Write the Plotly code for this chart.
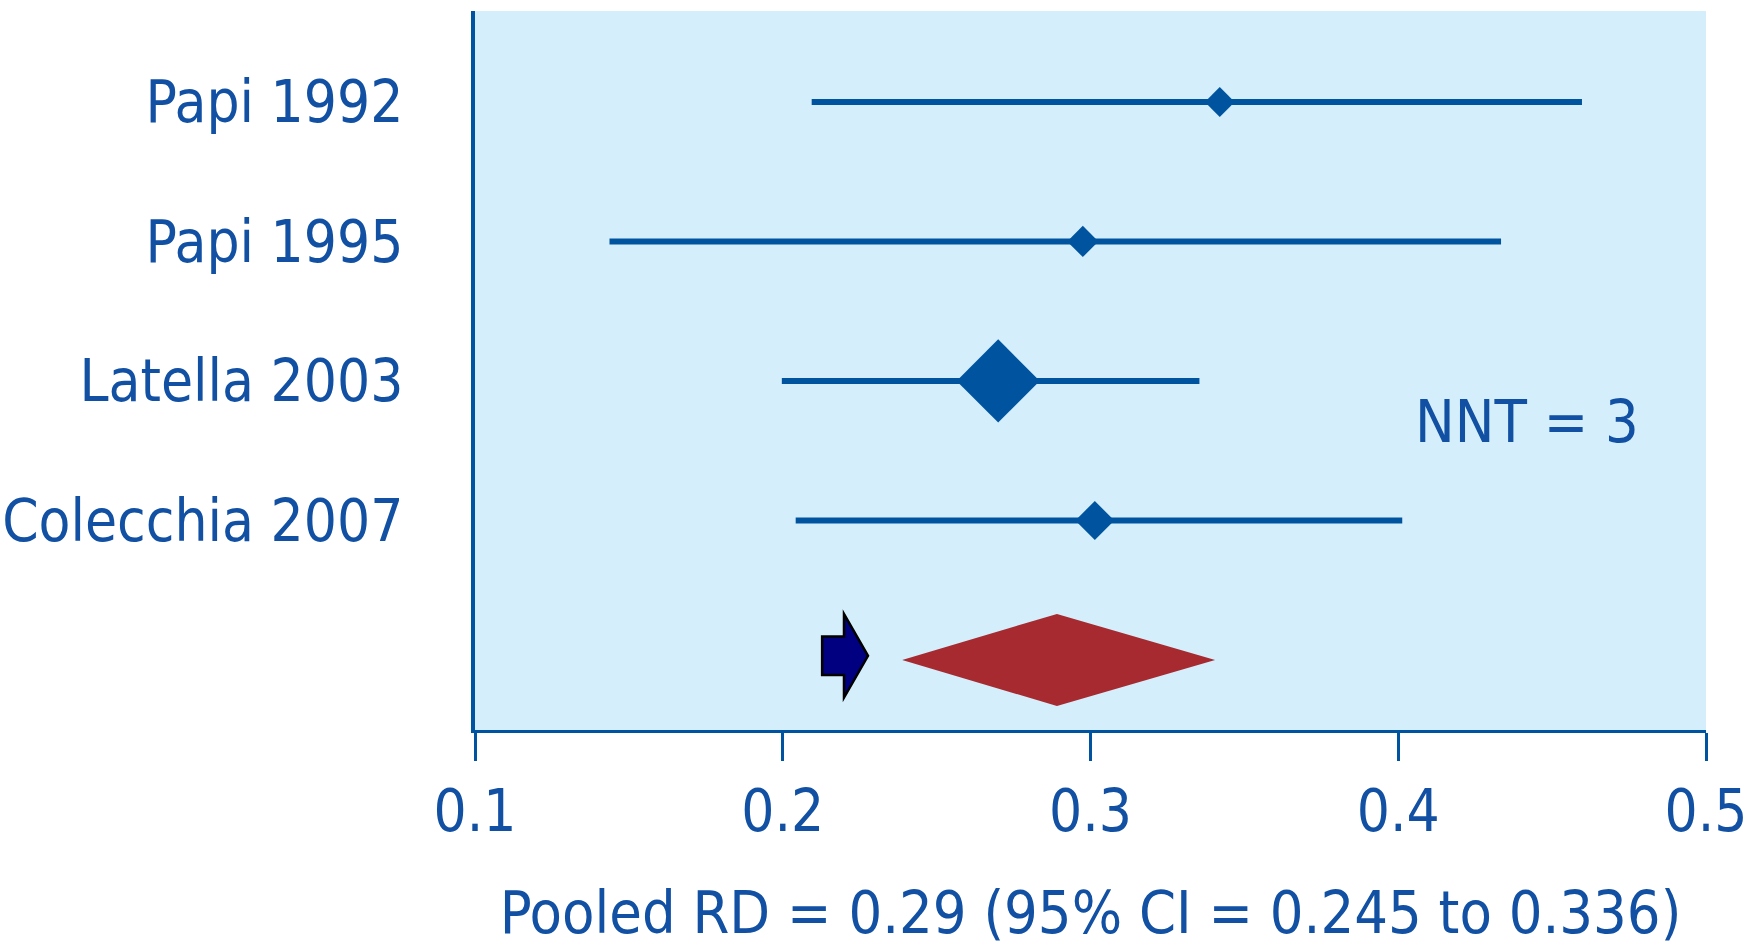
import plotly.graph_objects as go

studies = ["Papi 1992", "Papi 1995", "Latella 2003", "Colecchia 2007"]
estimate = [0.342, 0.2975, 0.270, 0.3014]
ci_low = [0.2094, 0.1437, 0.1997, 0.2042]
ci_high = [0.4597, 0.4334, 0.3354, 0.4013]
marker_sizes = [23, 24, 64, 30]

pooled_est = 0.2891
pooled_low = 0.2388
pooled_high = 0.3405
pooled_label = "Pooled RD = 0.29 (95% CI = 0.245 to 0.336)"
nnt_label = "NNT = 3"

x_ticks = [0.1, 0.2, 0.3, 0.4, 0.5]
x_tick_text = ["0.1", "0.2", "0.3", "0.4", "0.5"]

BLUE = "#00549F"
TEXT = "#1150A3"
BG = "#D4EFFB"
RED = "#A62A30"
FONT = "DejaVu Sans Condensed, Tahoma, DejaVu Sans, sans-serif"

rows = list(range(1, len(studies) + 1))
pooled_row = len(studies) + 1

fig = go.Figure()

for i, s in enumerate(studies):
    fig.add_trace(go.Scatter(
        x=[ci_low[i], ci_high[i]], y=[rows[i], rows[i]],
        mode="lines", line=dict(color=BLUE, width=6),
        showlegend=False, hoverinfo="skip"))

fig.add_trace(go.Scatter(
    x=estimate, y=rows, mode="markers",
    marker=dict(symbol="diamond", size=marker_sizes, color=BLUE, opacity=1,
                line=dict(width=0)),
    showlegend=False))

# pooled diamond
h = 0.33
fig.add_trace(go.Scatter(
    x=[pooled_low, pooled_est, pooled_high, pooled_est, pooled_low],
    y=[pooled_row, pooled_row - h, pooled_row, pooled_row + h, pooled_row],
    mode="lines", fill="toself", fillcolor=RED, line=dict(width=0, color=RED),
    showlegend=False))

# arrow pointing at the pooled diamond
ax0, ax1, ax2 = 0.2128, 0.2199, 0.2277
yc = pooled_row - 0.03
fig.add_shape(
    type="path", xref="x", yref="y",
    path=(f"M {ax0},{yc-0.138} L {ax1},{yc-0.138} L {ax1},{yc-0.30} "
          f"L {ax2},{yc} L {ax1},{yc+0.30} L {ax1},{yc+0.138} L {ax0},{yc+0.138} Z"),
    fillcolor="#000080", line=dict(color="black", width=2.5))

fig.add_annotation(
    x=0.4048, y=3.287, xref="x", yref="y", text=nnt_label, showarrow=False,
    xanchor="left", yanchor="middle", font=dict(family=FONT, size=59, color=TEXT))

fig.update_layout(
    width=1746, height=947,
    margin=dict(l=475, r=40, t=11, b=217),
    paper_bgcolor="white", plot_bgcolor=BG,
    font=dict(family=FONT, size=58, color=TEXT),
    xaxis=dict(
        range=[0.1, 0.5], tickvals=x_ticks, ticktext=x_tick_text,
        showgrid=False, zeroline=False, showline=True, linecolor=BLUE, linewidth=3,
        ticks="outside", ticklen=28, tickwidth=3, tickcolor=BLUE,
        tickfont=dict(family=FONT, size=58, color=TEXT), automargin=False,
        ticklabeloverflow="allow",
        title=dict(text=pooled_label, standoff=51, font=dict(family=FONT, size=59, color=TEXT)),
    ),
    yaxis=dict(
        range=[5.502, 0.348], tickvals=rows, ticktext=studies,
        showgrid=False, zeroline=False, showline=True, linecolor=BLUE, linewidth=4,
        ticks="", ticklabelstandoff=56, automargin=False,
        tickfont=dict(family=FONT, size=58, color=TEXT),
    ),
)

fig.write_html("out.html", config={"displayModeBar": False},
               post_script="document.body.style.margin='0';")
